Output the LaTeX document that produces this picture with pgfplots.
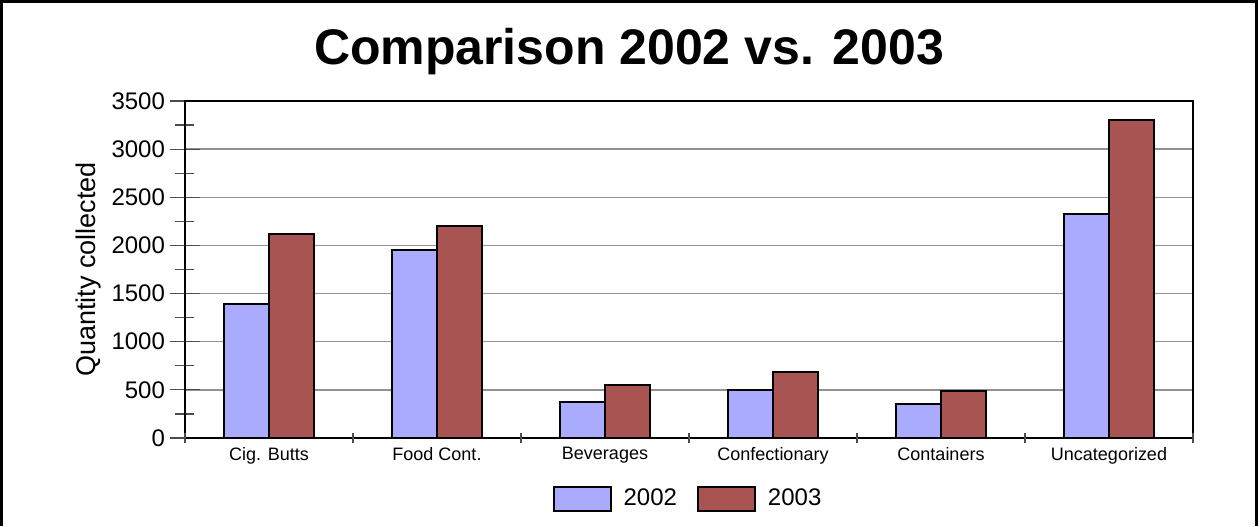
\documentclass[border=0pt]{standalone}
\usepackage{pgfplots}
\pgfplotsset{compat=1.18}
\usepackage{fontspec}
\setmainfont{Liberation Sans}
\definecolor{c2002}{RGB}{170,170,255}
\definecolor{c2003}{RGB}{168,84,82}
\definecolor{gridc}{RGB}{145,145,145}
\pgfplotsset{boxlegend/.style={legend image code/.code={\draw[##1, line width=1pt] (0pt,-6pt) rectangle (28.5pt,6pt);}}}
\begin{document}
\begin{tikzpicture}
\useasboundingbox (0,0) rectangle (630pt,263pt);
\draw[line width=1.5pt] (0.75pt,0) -- (0.75pt,262.25pt) -- (628.25pt,262.25pt) -- (628.25pt,0);
\node[font=\fontsize{25}{30}\selectfont\bfseries] at (314.5pt,237pt) {Comparison 2002 vs. 2003};
\begin{axis}[
  at={(92.5pt,44pt)}, anchor=south west,
  scale only axis, width=504pt, height=168.5pt,
  xmin=-0.5, xmax=5.5, ymin=0, ymax=3500,
  xtick=\empty,
  ytick={0,500,...,3500}, minor y tick num=1,
  ymajorgrids, major grid style={gridc, line width=0.75pt},
  ytick pos=left, tick align=center,
  major tick length=15pt, minor tick length=9.5pt,
  tick style={black!70, line width=0.6pt},
  axis line style={black, line width=0.75pt},
  /pgf/number format/assume math mode=true,
  /pgf/number format/1000 sep={},
  yticklabel style={font=\fontsize{12}{14}\selectfont, xshift=1pt},
  ylabel={Quantity collected},
  every axis y label/.style={at={(axis description cs:-0.096,0.5)}, rotate=90, anchor=center,
    font=\fontsize{13.5}{15}\selectfont},
  ybar=0pt, bar width=22.5pt,
  legend style={at={(0.5,-0.181)}, anchor=center, draw=none, legend columns=2,
    font=\fontsize{12}{14}\selectfont,
    /tikz/every odd column/.append style={column sep=4pt},
    /tikz/every even column/.append style={column sep=8pt}},
]
\addplot[fill=c2002, draw=black, line width=1pt, boxlegend]
  coordinates {(0,1395) (1,1950) (2,370) (3,500) (4,350) (5,2330)};
\addlegendentry{2002}
\addplot[fill=c2003, draw=black, line width=1pt, boxlegend]
  coordinates {(0,2115) (1,2200) (2,555) (3,690) (4,492) (5,3305)};
\addlegendentry{2003}
\end{axis}
\begin{axis}[
  at={(92.5pt,44pt)}, anchor=south west,
  scale only axis, width=504pt, height=168.5pt,
  xmin=-0.5, xmax=5.5, ymin=0, ymax=3500,
  hide y axis, axis line style={draw=none},
  xtick={-0.5,0.5,...,5.5}, xtick pos=bottom,
  xticklabels={Cig. Butts,Food Cont.,Beverages,Confectionary,Containers,Uncategorized},
  x tick label as interval,
  tick align=center, major tick length=5pt,
  tick style={black!70, line width=0.6pt},
  xticklabel style={font=\fontsize{9}{10}\selectfont, yshift=1.5pt},
]
\addplot[draw=none, forget plot] coordinates {(0,0)};
\end{axis}
\end{tikzpicture}
\end{document}
